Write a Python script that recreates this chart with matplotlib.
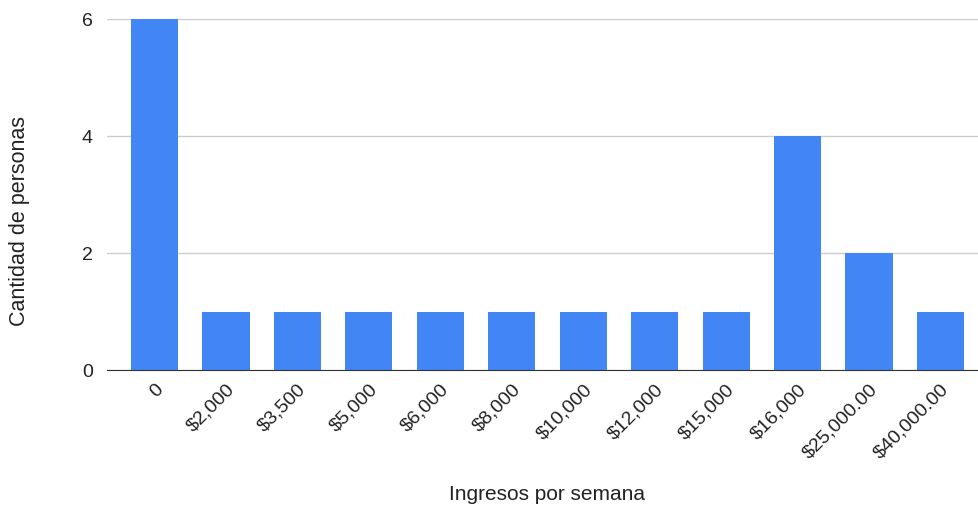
import matplotlib.pyplot as plt
import numpy as np

categorias = ['0', '$2,000', '$3,500', '$5,000', '$6,000', '$8,000', '$10,000',
              '$12,000', '$15,000', '$16,000', '$25,000.00', '$40,000.00']
personas = [6, 1, 1, 1, 1, 1, 1, 1, 1, 4, 2, 1]

plt.rcParams['font.family'] = ['Liberation Sans', 'DejaVu Sans']

fig = plt.figure(figsize=(9.79, 5.07), dpi=100)
ax = fig.add_axes([0.109, 0.270, 0.891, 0.6925])

x = np.arange(len(categorias))
ax.bar(x, personas, width=0.66, color='#4285F4', zorder=3)

ax.set_xlim(-0.67, 11.54)
ax.set_ylim(0, 6)
ax.set_yticks([0, 2, 4, 6])
ax.set_xticks(x)
ax.set_xticklabels(categorias, rotation=45, ha='right', rotation_mode='anchor', fontsize=14, color='#222222')
ax.tick_params(axis='y', labelsize=14, colors='#222222', length=0, pad=10)
ax.tick_params(axis='x', length=0, pad=8)

ax.grid(axis='y', color='#cccccc', linewidth=1, zorder=0)
for s in ['top', 'right', 'left']:
    ax.spines[s].set_visible(False)
ax.spines['bottom'].set_color('#333333')
ax.spines['bottom'].set_zorder(4)

fig.text(0.559, 0.024, 'Ingresos por semana', ha='center', va='center', fontsize=15, color='#222222')
fig.text(0.020, 0.564, 'Cantidad de personas', ha='center', va='center', rotation=90, fontsize=15.5, color='#222222')

fig.savefig('out.png', dpi=100)
